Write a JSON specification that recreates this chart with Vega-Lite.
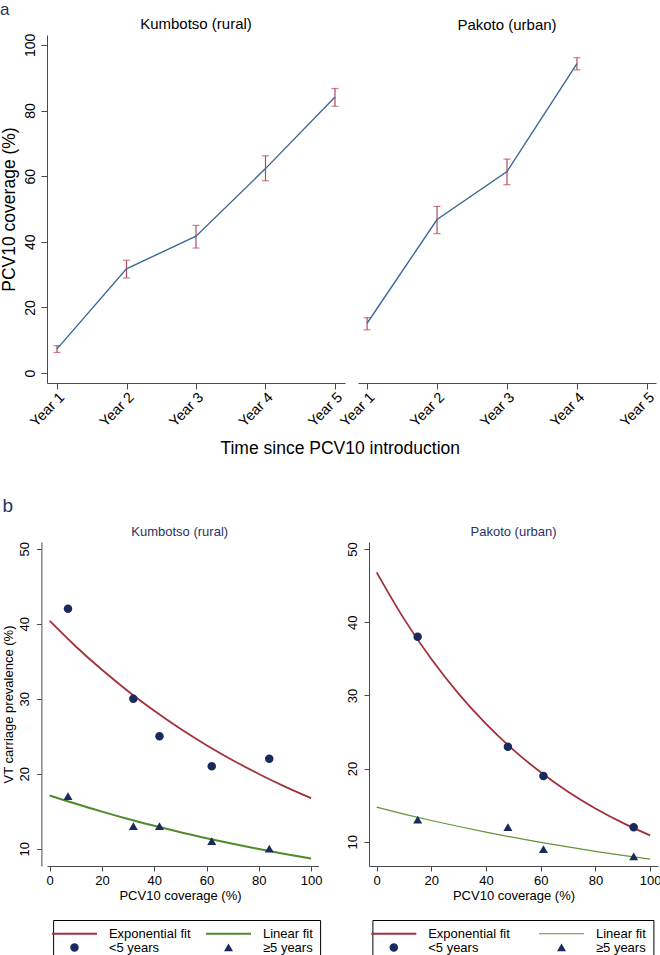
{
  "$schema": "https://vega.github.io/schema/vega-lite/v6.json",
  "background": "white",
  "padding": {"left": 0, "top": 0, "right": 0, "bottom": 0},
  "datasets": {
    "cov": [
      {"site": "Kumbotso", "year": "Year 1", "cov": 7.4, "lo": 6.3, "hi": 8.4},
      {"site": "Kumbotso", "year": "Year 2", "cov": 31.8, "lo": 29.0, "hi": 34.4},
      {"site": "Kumbotso", "year": "Year 3", "cov": 41.7, "lo": 38.1, "hi": 45.0},
      {"site": "Kumbotso", "year": "Year 4", "cov": 62.3, "lo": 58.6, "hi": 66.2},
      {"site": "Kumbotso", "year": "Year 5", "cov": 84.1, "lo": 81.3, "hi": 86.7},
      {"site": "Pakoto", "year": "Year 1", "cov": 15.2, "lo": 13.2, "hi": 16.9},
      {"site": "Pakoto", "year": "Year 2", "cov": 46.8, "lo": 42.5, "hi": 50.8},
      {"site": "Pakoto", "year": "Year 3", "cov": 61.4, "lo": 57.4, "hi": 65.2},
      {"site": "Pakoto", "year": "Year 4", "cov": 94.3, "lo": 92.4, "hi": 96.1}
    ],
    "pts": [
      {"site": "Kumbotso", "key": "<5 years", "pcv": 7, "prev": 42},
      {"site": "Kumbotso", "key": "<5 years", "pcv": 32, "prev": 30},
      {"site": "Kumbotso", "key": "<5 years", "pcv": 42, "prev": 25},
      {"site": "Kumbotso", "key": "<5 years", "pcv": 62, "prev": 21},
      {"site": "Kumbotso", "key": "<5 years", "pcv": 84, "prev": 22},
      {"site": "Kumbotso", "key": "≥5 years", "pcv": 7, "prev": 17},
      {"site": "Kumbotso", "key": "≥5 years", "pcv": 32, "prev": 13},
      {"site": "Kumbotso", "key": "≥5 years", "pcv": 42, "prev": 13},
      {"site": "Kumbotso", "key": "≥5 years", "pcv": 62, "prev": 11},
      {"site": "Kumbotso", "key": "≥5 years", "pcv": 84, "prev": 10},
      {"site": "Pakoto", "key": "<5 years", "pcv": 15, "prev": 38},
      {"site": "Pakoto", "key": "<5 years", "pcv": 48, "prev": 23},
      {"site": "Pakoto", "key": "<5 years", "pcv": 61, "prev": 19},
      {"site": "Pakoto", "key": "<5 years", "pcv": 94, "prev": 12},
      {"site": "Pakoto", "key": "≥5 years", "pcv": 15, "prev": 13},
      {"site": "Pakoto", "key": "≥5 years", "pcv": 48, "prev": 12},
      {"site": "Pakoto", "key": "≥5 years", "pcv": 61, "prev": 9},
      {"site": "Pakoto", "key": "≥5 years", "pcv": 94, "prev": 8}
    ],
    "fit": [
      {"site": "Kumbotso", "key": "Exponential fit", "pcv": 0, "prev": 40.38},
      {"site": "Kumbotso", "key": "Exponential fit", "pcv": 10, "prev": 36.97},
      {"site": "Kumbotso", "key": "Exponential fit", "pcv": 20, "prev": 33.86},
      {"site": "Kumbotso", "key": "Exponential fit", "pcv": 30, "prev": 31.01},
      {"site": "Kumbotso", "key": "Exponential fit", "pcv": 40, "prev": 28.40},
      {"site": "Kumbotso", "key": "Exponential fit", "pcv": 50, "prev": 26.00},
      {"site": "Kumbotso", "key": "Exponential fit", "pcv": 60, "prev": 23.81},
      {"site": "Kumbotso", "key": "Exponential fit", "pcv": 70, "prev": 21.81},
      {"site": "Kumbotso", "key": "Exponential fit", "pcv": 80, "prev": 19.97},
      {"site": "Kumbotso", "key": "Exponential fit", "pcv": 90, "prev": 18.29},
      {"site": "Kumbotso", "key": "Exponential fit", "pcv": 100, "prev": 16.75},
      {"site": "Kumbotso", "key": "Linear fit", "pcv": 0, "prev": 17.11},
      {"site": "Kumbotso", "key": "Linear fit", "pcv": 10, "prev": 15.99},
      {"site": "Kumbotso", "key": "Linear fit", "pcv": 20, "prev": 14.95},
      {"site": "Kumbotso", "key": "Linear fit", "pcv": 30, "prev": 13.97},
      {"site": "Kumbotso", "key": "Linear fit", "pcv": 40, "prev": 13.06},
      {"site": "Kumbotso", "key": "Linear fit", "pcv": 50, "prev": 12.20},
      {"site": "Kumbotso", "key": "Linear fit", "pcv": 60, "prev": 11.41},
      {"site": "Kumbotso", "key": "Linear fit", "pcv": 70, "prev": 10.66},
      {"site": "Kumbotso", "key": "Linear fit", "pcv": 80, "prev": 9.96},
      {"site": "Kumbotso", "key": "Linear fit", "pcv": 90, "prev": 9.31},
      {"site": "Kumbotso", "key": "Linear fit", "pcv": 100, "prev": 8.70},
      {"site": "Pakoto", "key": "Exponential fit", "pcv": 0, "prev": 46.80},
      {"site": "Pakoto", "key": "Exponential fit", "pcv": 10, "prev": 40.45},
      {"site": "Pakoto", "key": "Exponential fit", "pcv": 20, "prev": 34.96},
      {"site": "Pakoto", "key": "Exponential fit", "pcv": 30, "prev": 30.21},
      {"site": "Pakoto", "key": "Exponential fit", "pcv": 40, "prev": 26.11},
      {"site": "Pakoto", "key": "Exponential fit", "pcv": 50, "prev": 22.56},
      {"site": "Pakoto", "key": "Exponential fit", "pcv": 60, "prev": 19.50},
      {"site": "Pakoto", "key": "Exponential fit", "pcv": 70, "prev": 16.85},
      {"site": "Pakoto", "key": "Exponential fit", "pcv": 80, "prev": 14.56},
      {"site": "Pakoto", "key": "Exponential fit", "pcv": 90, "prev": 12.59},
      {"site": "Pakoto", "key": "Exponential fit", "pcv": 100, "prev": 10.88},
      {"site": "Pakoto", "key": "Linear fit", "pcv": 0, "prev": 14.73},
      {"site": "Pakoto", "key": "Linear fit", "pcv": 10, "prev": 13.79},
      {"site": "Pakoto", "key": "Linear fit", "pcv": 20, "prev": 12.91},
      {"site": "Pakoto", "key": "Linear fit", "pcv": 30, "prev": 12.09},
      {"site": "Pakoto", "key": "Linear fit", "pcv": 40, "prev": 11.32},
      {"site": "Pakoto", "key": "Linear fit", "pcv": 50, "prev": 10.60},
      {"site": "Pakoto", "key": "Linear fit", "pcv": 60, "prev": 9.93},
      {"site": "Pakoto", "key": "Linear fit", "pcv": 70, "prev": 9.30},
      {"site": "Pakoto", "key": "Linear fit", "pcv": 80, "prev": 8.71},
      {"site": "Pakoto", "key": "Linear fit", "pcv": 90, "prev": 8.15},
      {"site": "Pakoto", "key": "Linear fit", "pcv": 100, "prev": 7.64}
    ]
  },
  "config": {
    "font": "Liberation Sans",
    "view": {"stroke": null},
    "axis": {"grid": false, "domainColor": "#4a4a4a", "tickColor": "#4a4a4a", "labelColor": "#000", "titleColor": "#000", "titleFontWeight": "normal", "labelFont": "Liberation Sans", "titleFont": "Liberation Sans"},
    "title": {"fontWeight": "normal", "font": "Liberation Sans"}
  },
  "resolve": {"scale": {"color": "independent", "shape": "independent"}},
  "spacing": 39,
  "vconcat": [
    {
      "title": {"text": "a", "anchor": "start", "frame": "bounds", "fontSize": 17, "color": "#1f3566", "baseline": "bottom", "offset": -19.4},
      "vconcat": [
        {
          "title": {"text": "Time since PCV10 introduction", "orient": "bottom", "anchor": "middle", "fontSize": 17.5, "color": "#000", "baseline": "top", "offset": 11, "dx": 12},
          "bounds": "flush",
          "spacing": 13,
          "hconcat": [
            {
              "width": 298, "height": 348,
              "title": {"text": "Kumbotso (rural)", "fontSize": 15, "color": "#000", "baseline": "alphabetic", "offset": -10.4},
              "data": {"name": "cov"},
              "transform": [{"filter": {"field": "site", "equal": "Kumbotso"}}],
              "encoding": {
                "x": {"field": "year", "type": "ordinal", "scale": {"type": "point", "domain": ["Year 1", "Year 2", "Year 3", "Year 4", "Year 5"], "padding": 0.144}, "axis": {"title": null, "labelAngle": -45, "labelAlign": "right", "labelBaseline": "top", "labelPadding": 1, "labelFontSize": 14.5, "tickSize": 6}}
              },
              "layer": [
                {"mark": {"type": "rule", "color": "#b5495b", "strokeWidth": 1.2},
                 "encoding": {"y": {"field": "lo", "type": "quantitative", "title": "PCV10 coverage (%)", "scale": {"domain": [-3, 103], "nice": false, "zero": false}, "axis": {"values": [0, 20, 40, 60, 80, 100], "labelAngle": -90, "labelAlign": "center", "labelBaseline": "bottom", "labelFontSize": 14, "labelPadding": 4, "tickSize": 6, "titleFontSize": 17.5, "titlePadding": 5}}, "y2": {"field": "hi"}}},
                {"mark": {"type": "tick", "color": "#b5495b", "size": 7, "thickness": 1.2},
                 "encoding": {"y": {"field": "lo", "type": "quantitative", "title": "PCV10 coverage (%)", "scale": {"domain": [-3, 103], "nice": false, "zero": false}, "axis": {"values": [0, 20, 40, 60, 80, 100], "labelAngle": -90, "labelAlign": "center", "labelBaseline": "bottom", "labelFontSize": 14, "labelPadding": 4, "tickSize": 6, "titleFontSize": 17.5, "titlePadding": 5}}}},
                {"mark": {"type": "tick", "color": "#b5495b", "size": 7, "thickness": 1.2},
                 "encoding": {"y": {"field": "hi", "type": "quantitative", "title": "PCV10 coverage (%)", "scale": {"domain": [-3, 103], "nice": false, "zero": false}, "axis": {"values": [0, 20, 40, 60, 80, 100], "labelAngle": -90, "labelAlign": "center", "labelBaseline": "bottom", "labelFontSize": 14, "labelPadding": 4, "tickSize": 6, "titleFontSize": 17.5, "titlePadding": 5}}}},
                {"mark": {"type": "line", "color": "#3a6897", "strokeWidth": 1.4},
                 "encoding": {"y": {"field": "cov", "type": "quantitative", "title": "PCV10 coverage (%)", "scale": {"domain": [-3, 103], "nice": false, "zero": false}, "axis": {"values": [0, 20, 40, 60, 80, 100], "labelAngle": -90, "labelAlign": "center", "labelBaseline": "bottom", "labelFontSize": 14, "labelPadding": 4, "tickSize": 6, "titleFontSize": 17.5, "titlePadding": 5}}}}
              ]
            },
            {
              "width": 298, "height": 348,
              "title": {"text": "Pakoto (urban)", "fontSize": 15, "color": "#000", "baseline": "alphabetic", "offset": -10.4},
              "data": {"name": "cov"},
              "transform": [{"filter": {"field": "site", "equal": "Pakoto"}}],
              "encoding": {
                "x": {"field": "year", "type": "ordinal", "scale": {"type": "point", "domain": ["Year 1", "Year 2", "Year 3", "Year 4", "Year 5"], "padding": 0.13}, "axis": {"title": null, "labelAngle": -45, "labelAlign": "right", "labelBaseline": "top", "labelPadding": 1, "labelFontSize": 14.5, "tickSize": 6}}
              },
              "layer": [
                {"mark": {"type": "rule", "color": "#b5495b", "strokeWidth": 1.2},
                 "encoding": {"y": {"field": "lo", "type": "quantitative", "scale": {"domain": [-3, 103], "nice": false, "zero": false}, "axis": null}, "y2": {"field": "hi"}}},
                {"mark": {"type": "tick", "color": "#b5495b", "size": 7, "thickness": 1.2},
                 "encoding": {"y": {"field": "lo", "type": "quantitative", "scale": {"domain": [-3, 103], "nice": false, "zero": false}, "axis": null}}},
                {"mark": {"type": "tick", "color": "#b5495b", "size": 7, "thickness": 1.2},
                 "encoding": {"y": {"field": "hi", "type": "quantitative", "scale": {"domain": [-3, 103], "nice": false, "zero": false}, "axis": null}}},
                {"mark": {"type": "line", "color": "#3a6897", "strokeWidth": 1.4},
                 "encoding": {"y": {"field": "cov", "type": "quantitative", "scale": {"domain": [-3, 103], "nice": false, "zero": false}, "axis": null}}}
              ]
            }
          ]
        }
      ]
    },
    {
      "title": {"text": "b", "anchor": "start", "frame": "bounds", "fontSize": 19, "color": "#1f3566", "baseline": "bottom", "offset": -9},
      "spacing": 23,
      "resolve": {"scale": {"color": "independent", "shape": "independent"}},
      "hconcat": [
        {
          "width": 271.4, "height": 324,
          "title": {"text": "Kumbotso (rural)", "fontSize": 13, "color": "#1f3566", "baseline": "alphabetic", "offset": -7.6, "dx": -3},
          "encoding": {
            "x": {"field": "pcv", "type": "quantitative", "title": "PCV10 coverage (%)", "scale": {"domain": [-1.03, 102.8], "nice": false, "zero": false}, "axis": {"values": [0, 20, 40, 60, 80, 100], "labelFontSize": 13, "titleFontSize": 13, "tickSize": 5, "labelPadding": 3, "titlePadding": 2, "titleX": 133}},
            "y": {"field": "prev", "type": "quantitative", "title": "VT carriage prevalence (%)", "scale": {"domain": [7.7, 50.9], "nice": false, "zero": false}, "axis": {"values": [10, 20, 30, 40, 50], "offset": 5.6, "labelAngle": -90, "labelAlign": "center", "labelBaseline": "bottom", "labelFontSize": 13, "labelPadding": 5, "tickSize": 5, "titleFontSize": 13, "titlePadding": 3}}
          },
          "layer": [
            {"data": {"name": "fit"}, "transform": [{"filter": {"and": [{"field": "site", "equal": "Kumbotso"}, {"field": "key", "equal": "Exponential fit"}]}}],
             "mark": {"type": "line", "color": "#a3303b", "strokeWidth": 1.8, "interpolate": "monotone"}},
            {"data": {"name": "fit"}, "transform": [{"filter": {"and": [{"field": "site", "equal": "Kumbotso"}, {"field": "key", "equal": "Linear fit"}]}}],
             "mark": {"type": "line", "color": "#4f8a2b", "strokeWidth": 2, "interpolate": "monotone"}},
            {"data": {"name": "pts"}, "transform": [{"filter": {"field": "site", "equal": "Kumbotso"}}],
             "mark": {"type": "point", "filled": true, "size": 100, "opacity": 1},
             "encoding": {
               "color": {"field": "key", "type": "nominal", "scale": {"domain": ["Exponential fit", "<5 years", "Linear fit", "≥5 years"], "range": ["#a3303b", "#1b2a5c", "#4f8a2b", "#1b2a5c"]},
                 "legend": {"orient": "none", "legendX": 6.1, "legendY": 378, "columns": 2, "title": null, "symbolSize": 100, "symbolOffset": 7.9, "labelOffset": 27.9, "labelFontSize": 13, "labelColor": "#000", "labelFont": "Liberation Sans", "columnPadding": 14, "rowPadding": -5, "padding": 7, "strokeColor": "#000", "fillColor": "#fff", "symbolStrokeWidth": 0}},
               "shape": {"field": "key", "type": "nominal", "scale": {"domain": ["Exponential fit", "<5 years", "Linear fit", "≥5 years"], "range": ["M-4.5,-0.18H4.5V0.18H-4.5Z", "M0.85,0C0.85,0.4695,0.4695,0.85,0,0.85C-0.4695,0.85,-0.85,0.4695,-0.85,0C-0.85,-0.4695,-0.4695,-0.85,0,-0.85C0.4695,-0.85,0.85,-0.4695,0.85,0Z", "M-4.5,-0.2H4.5V0.2H-4.5Z", "M0,-0.8L0.9,0.75L-0.9,0.75Z"]},
                 "legend": {"orient": "none", "legendX": 6.1, "legendY": 378, "columns": 2, "title": null, "symbolSize": 100, "symbolOffset": 7.9, "labelOffset": 27.9, "labelFontSize": 13, "labelColor": "#000", "labelFont": "Liberation Sans", "columnPadding": 14, "rowPadding": -5, "padding": 7, "strokeColor": "#000", "fillColor": "#fff", "symbolStrokeWidth": 0}}
             }}
          ]
        },
        {
          "width": 289, "height": 324,
          "title": {"text": "Pakoto (urban)", "fontSize": 13, "color": "#1f3566", "baseline": "alphabetic", "offset": -7.6},
          "encoding": {
            "x": {"field": "pcv", "type": "quantitative", "title": "PCV10 coverage (%)", "scale": {"domain": [-2.8, 102.9], "nice": false, "zero": false}, "axis": {"values": [0, 20, 40, 60, 80, 100], "labelFontSize": 13, "titleFontSize": 13, "tickSize": 5, "labelPadding": 3, "titlePadding": 2}},
            "y": {"field": "prev", "type": "quantitative", "title": null, "scale": {"domain": [6.7, 50.95], "nice": false, "zero": false}, "axis": {"values": [10, 20, 30, 40, 50], "labelAngle": -90, "labelAlign": "center", "labelBaseline": "bottom", "labelFontSize": 13, "labelPadding": 5, "tickSize": 5}}
          },
          "layer": [
            {"data": {"name": "fit"}, "transform": [{"filter": {"and": [{"field": "site", "equal": "Pakoto"}, {"field": "key", "equal": "Exponential fit"}]}}],
             "mark": {"type": "line", "color": "#a3303b", "strokeWidth": 1.8, "interpolate": "monotone"}},
            {"data": {"name": "fit"}, "transform": [{"filter": {"and": [{"field": "site", "equal": "Pakoto"}, {"field": "key", "equal": "Linear fit"}]}}],
             "mark": {"type": "line", "color": "#5f9636", "strokeWidth": 1.2, "interpolate": "monotone"}},
            {"data": {"name": "pts"}, "transform": [{"filter": {"field": "site", "equal": "Pakoto"}}],
             "mark": {"type": "point", "filled": true, "size": 100, "opacity": 1},
             "encoding": {
               "color": {"field": "key", "type": "nominal", "scale": {"domain": ["Exponential fit", "<5 years", "Linear fit", "≥5 years"], "range": ["#a3303b", "#1b2a5c", "#5f9636", "#1b2a5c"]},
                 "legend": {"orient": "none", "legendX": 3.4, "legendY": 378, "columns": 2, "title": null, "symbolSize": 100, "symbolOffset": 7.9, "labelOffset": 27.9, "labelFontSize": 13, "labelColor": "#000", "labelFont": "Liberation Sans", "columnPadding": 27.7, "rowPadding": -5, "padding": 7, "strokeColor": "#000", "fillColor": "#fff", "symbolStrokeWidth": 0}},
               "shape": {"field": "key", "type": "nominal", "scale": {"domain": ["Exponential fit", "<5 years", "Linear fit", "≥5 years"], "range": ["M-4.5,-0.18H4.5V0.18H-4.5Z", "M0.85,0C0.85,0.4695,0.4695,0.85,0,0.85C-0.4695,0.85,-0.85,0.4695,-0.85,0C-0.85,-0.4695,-0.4695,-0.85,0,-0.85C0.4695,-0.85,0.85,-0.4695,0.85,0Z", "M-4.5,-0.12H4.5V0.12H-4.5Z", "M0,-0.8L0.9,0.75L-0.9,0.75Z"]},
                 "legend": {"orient": "none", "legendX": 3.4, "legendY": 378, "columns": 2, "title": null, "symbolSize": 100, "symbolOffset": 7.9, "labelOffset": 27.9, "labelFontSize": 13, "labelColor": "#000", "labelFont": "Liberation Sans", "columnPadding": 27.7, "rowPadding": -5, "padding": 7, "strokeColor": "#000", "fillColor": "#fff", "symbolStrokeWidth": 0}}
             }}
          ]
        }
      ]
    }
  ]
}
